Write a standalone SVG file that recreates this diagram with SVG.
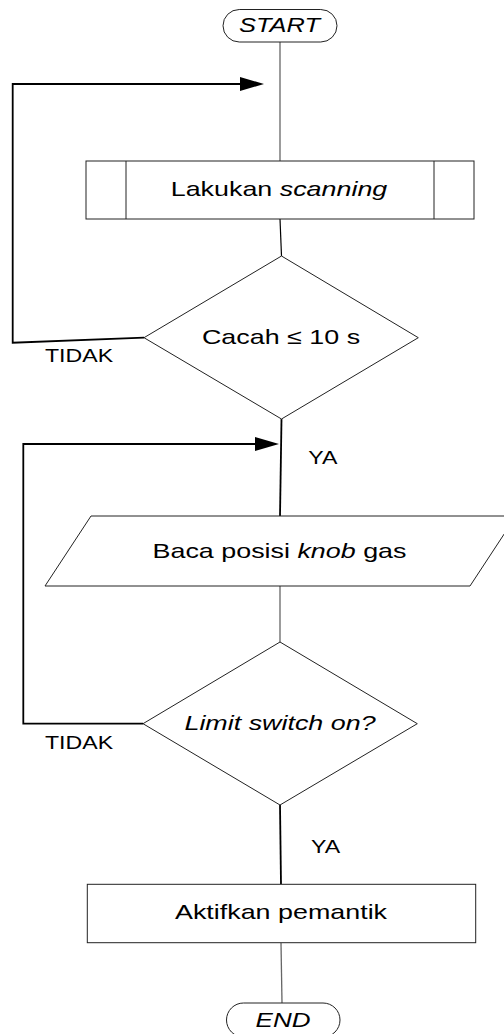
<svg xmlns="http://www.w3.org/2000/svg" width="504" height="1034" viewBox="0 0 504 1034">
<style>
.shape{fill:#fff;stroke:#222;stroke-width:1}
.t{font-family:"Liberation Sans",Arial,sans-serif;font-size:21px;fill:#000;text-anchor:middle}
.lbl{font-family:"Liberation Sans",Arial,sans-serif;font-size:18.5px;fill:#000}
.it{font-style:italic}
.flow{fill:none;stroke:#000;stroke-width:1.2}
.grey{fill:none;stroke:#666;stroke-width:1.3}
.loop{fill:none;stroke:#000;stroke-width:1.8}
</style>
<defs>
<marker id="ah" markerUnits="userSpaceOnUse" markerWidth="26" markerHeight="14" refX="2" refY="7" orient="auto">
<path d="M0,0 L24,7 L0,14 z" fill="#000"/>
</marker>
</defs>
<rect width="504" height="1034" fill="#fff"/>
<g id="connectors">
<line class="grey" x1="280" y1="42" x2="280" y2="161"/>
<line class="flow" x1="280" y1="219" x2="281.5" y2="256"/>
<line class="loop" x1="281.5" y1="419" x2="280" y2="516"/>
<line class="grey" x1="280" y1="586" x2="280" y2="642"/>
<line class="loop" x1="280" y1="805" x2="281" y2="884.3"/>
<line class="grey" x1="281" y1="943" x2="282" y2="1003"/>
<polyline class="loop" points="144,337.7 12.7,342.7 12.7,84 242,84" marker-end="url(#ah)"/>
<polyline class="loop" points="143,723.7 23.3,723.7 23.3,444 257,444" marker-end="url(#ah)"/>
<text class="lbl" transform="translate(45,361.7) scale(1.25,1)">TIDAK</text>
<text class="lbl" transform="translate(308.3,464) scale(1.25,1)">YA</text>
<text class="lbl" transform="translate(45,749.3) scale(1.25,1)">TIDAK</text>
<text class="lbl" transform="translate(311,852.7) scale(1.25,1)">YA</text>
</g>
<g id="start">
<rect class="shape" x="223" y="9.5" width="114" height="32.5" rx="16.25"/>
<text class="t it" style="font-size:20px" transform="translate(279.5,32.3) scale(1.27,1)">START</text>
</g>
<g id="scanning">
<rect class="shape" x="86" y="161" width="388" height="58"/>
<line class="shape" x1="126" y1="161" x2="126" y2="219"/>
<line class="shape" x1="434" y1="161" x2="434" y2="219"/>
<text class="t" transform="translate(279,196) scale(1.28,1)">Lakukan <tspan class="it">scanning</tspan></text>
</g>
<g id="cacah">
<polygon class="shape" points="281.5,256 418.3,337.7 281.5,419 144,337.7"/>
<text class="t" transform="translate(281,344.3) scale(1.28,1)">Cacah ≤ 10 s</text>
</g>
<g id="baca">
<polygon class="shape" points="91,516 516,516 470,586 45,586"/>
<text class="t" transform="translate(279.5,557.7) scale(1.28,1)">Baca posisi <tspan class="it">knob</tspan> gas</text>
</g>
<g id="limit">
<polygon class="shape" points="280,642 417.3,723.7 280,805 143,723.7"/>
<text class="t it" transform="translate(280,730) scale(1.28,1)">Limit switch on?</text>
</g>
<g id="aktifkan">
<rect class="shape" x="87.3" y="884.3" width="388.4" height="58.4"/>
<text class="t" transform="translate(281,919.3) scale(1.28,1)">Aktifkan pemantik</text>
</g>
<g id="end">
<rect class="shape" x="226.5" y="1003" width="113.5" height="34" rx="17"/>
<text class="t it" transform="translate(283,1026.7) scale(1.24,1)">END</text>
</g>
</svg>
